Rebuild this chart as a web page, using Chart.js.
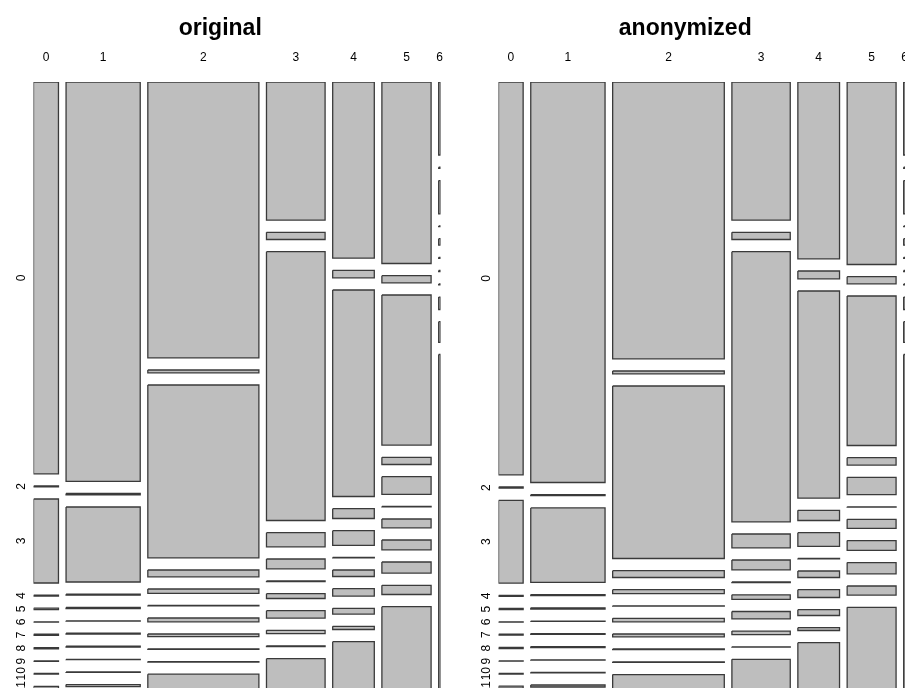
<!DOCTYPE html>
<html>
<head>
    <title>Mosaic: original vs anonymized</title>
    <script src="https://cdn.jsdelivr.net/npm/chart.js"></script>
    <style>
        body {
            margin: 0;
            padding: 0;
            background-color: #fff;
            overflow: hidden;
            width: 905px;
            height: 688px;
            position: relative;
        }

        .panel {
            position: absolute;
            top: 0;
            width: 474px;
            height: 688px;
        }

        #left { left: 0; }
        #right { left: 465px; }
    </style>
</head>
<body>
    <div class="panel" id="left"><canvas id="chartOrig" width="474" height="688"></canvas></div>
    <div class="panel" id="right"><canvas id="chartAnon" width="474" height="688"></canvas></div>
<script>
    var colLabels = ['0', '1', '2', '3', '4', '5', '6'];
    var rowLabels = ['0', '2', '3', '4', '5', '6', '7', '8', '9', '10', '11'];

    // share of all records in each column (%)
    var origColShare = [6.9, 20.5, 30.7, 16.2, 11.5, 13.6, 0.5];
    var anonColShare = [6.8, 20.5, 30.8, 16.1, 11.5, 13.5, 0.5];

    // share of each row inside a column (per mille), same order as rowLabels
    // the picture is cut at the bottom, so the last row is only partly known
    var origCol0 = [391.8, 0.8, 84.0, 0.8, 1.4, 0.2, 1.2, 1.2, 0.3, 0.6, 2];
    var origCol1 = [399.3, 1.3, 75.0, 1.0, 1.2, 0.2, 0.8, 1.0, 0.3, 0.5, 2];
    var origCol2 = [275.8, 2.8, 172.8, 6.8, 4.3, 0.3, 3.8, 2.6, 0.6, 0.4, 40];
    var origCol3 = [138.1, 7.2, 268.8, 14.1, 9.8, 0.5, 4.8, 7.4, 3.3, 0.7, 60];
    var origCol4 = [176.1, 7.5, 206.5, 9.8, 14.6, 0.3, 6.5, 7.4, 5.8, 3.2, 80];
    var origCol5 = [181.5, 7.1, 150.1, 7.2, 17.6, 0.3, 8.8, 9.8, 11.1, 9.2, 110];
    var origCol6 = [73.0, 1.2, 33.2, 0.5, 6.4, 1.0, 1.2, 1.0, 12.4, 20.6, 360];

    var anonCol0 = [392.8, 1.1, 82.8, 1.0, 1.1, 0.2, 1.0, 1.3, 0.3, 0.6, 2];
    var anonCol1 = [400.5, 1.0, 74.5, 1.0, 1.2, 0.2, 0.8, 1.0, 0.3, 0.5, 2];
    var anonCol2 = [276.8, 2.8, 172.5, 6.8, 3.9, 0.3, 3.5, 2.8, 0.6, 0.6, 40];
    var anonCol3 = [138.1, 7.2, 270.1, 13.8, 9.8, 0.6, 4.5, 7.4, 3.5, 0.3, 60];
    var anonCol4 = [176.8, 7.8, 207.1, 10.2, 13.6, 0.3, 6.5, 7.8, 5.8, 2.8, 80];
    var anonCol5 = [182.5, 7.1, 149.5, 7.4, 17.3, 0.3, 9.1, 9.8, 11.2, 9.1, 110];
    var anonCol6 = [73.0, 1.2, 33.2, 0.5, 6.4, 1.0, 1.2, 1.0, 12.4, 20.6, 360];

    var colGap = 2.1;     // space between columns (% units)
    var rowGap = 12.2;    // space between rows (per mille units)
    var yVisible = 606;   // how far down the plot is seen

    var titleHeight = 15 + 23 * 1.2;

    function mosaicDatasets(colShare, rowShares) {
        var sets = [];
        var x = 0;
        for (var c = 0; c < colShare.length; c++) {
            var w = colShare[c];
            var y = 0;
            for (var r = 0; r < rowShares[c].length; r++) {
                var h = rowShares[c][r];
                sets.push({
                    data: [{x: x, y: y}, {x: x + w, y: y}, {x: x + w, y: y + h}, {x: x, y: y + h}, {x: x, y: y}],
                    showLine: true,
                    fill: 'shape',
                    backgroundColor: '#bebebe',
                    borderColor: '#3a3a3a',
                    borderWidth: 1.3,
                    pointRadius: 0,
                    pointHoverRadius: 0,
                    tension: 0
                });
                y += h + rowGap;
            }
            x += w + colGap;
        }
        return sets;
    }

    function colCenters(colShare) {
        var out = [];
        var x = 0;
        for (var c = 0; c < colShare.length; c++) {
            out.push(x + colShare[c] / 2);
            x += colShare[c] + colGap;
        }
        return out;
    }

    function rowCenters(firstCol) {
        var out = [];
        var y = 0;
        for (var r = 0; r < firstCol.length; r++) {
            out.push(y + firstCol[r] / 2);
            y += firstCol[r] + rowGap;
        }
        return out;
    }

    function drawMosaic(canvasId, title, colShare, rowShares) {
        var xMax = colShare.reduce(function (a, b) { return a + b; }, 0) + colGap * (colShare.length - 1);
        var xTicks = colCenters(colShare);
        var yTicks = rowCenters(rowShares[0]);
        var tickFont = {family: 'Liberation Sans, Arial, sans-serif', size: 12};

        return new Chart(document.getElementById(canvasId), {
            type: 'scatter',
            data: {datasets: mosaicDatasets(colShare, rowShares)},
            options: {
                responsive: false,
                animation: false,
                devicePixelRatio: 1,
                events: [],
                layout: {padding: {left: 0, right: 33.5, top: 0, bottom: 0}},
                plugins: {
                    legend: {display: false},
                    tooltip: {enabled: false},
                    title: {
                        display: true,
                        text: title,
                        color: '#000',
                        font: {family: 'Liberation Sans, Arial, sans-serif', size: 23, weight: 'bold', lineHeight: 1.2},
                        padding: {top: 15, bottom: 0}
                    }
                },
                scales: {
                    x: {
                        type: 'linear',
                        position: 'top',
                        min: 0,
                        max: xMax,
                        grid: {display: false, drawTicks: false},
                        border: {display: false},
                        afterBuildTicks: function (scale) {
                            scale.ticks = xTicks.map(function (v) { return {value: v}; });
                        },
                        afterFit: function (scale) {
                            scale.height = 82 - titleHeight;
                            scale.paddingLeft = 0;
                            scale.paddingRight = 0;
                        },
                        ticks: {
                            autoSkip: false,
                            maxRotation: 0,
                            padding: 16.8,
                            color: '#000',
                            font: tickFont,
                            callback: function (v, i) { return colLabels[i]; }
                        }
                    },
                    y: {
                        type: 'linear',
                        reverse: true,
                        min: 0,
                        max: yVisible,
                        grid: {display: false, drawTicks: false},
                        border: {display: false},
                        afterBuildTicks: function (scale) {
                            scale.ticks = yTicks.map(function (v) { return {value: v}; });
                        },
                        afterFit: function (scale) {
                            scale.width = 33.5;
                            scale.paddingTop = 0;
                            scale.paddingBottom = 0;
                        },
                        ticks: {
                            autoSkip: false,
                            minRotation: 90,
                            maxRotation: 90,
                            crossAlign: 'center',
                            padding: 5,
                            color: '#000',
                            font: tickFont,
                            callback: function (v, i) { return rowLabels[i]; }
                        }
                    }
                }
            }
        });
    }

    drawMosaic('chartOrig', 'original', origColShare,
        [origCol0, origCol1, origCol2, origCol3, origCol4, origCol5, origCol6]);
    drawMosaic('chartAnon', 'anonymized', anonColShare,
        [anonCol0, anonCol1, anonCol2, anonCol3, anonCol4, anonCol5, anonCol6]);
</script>
</body>
</html>
